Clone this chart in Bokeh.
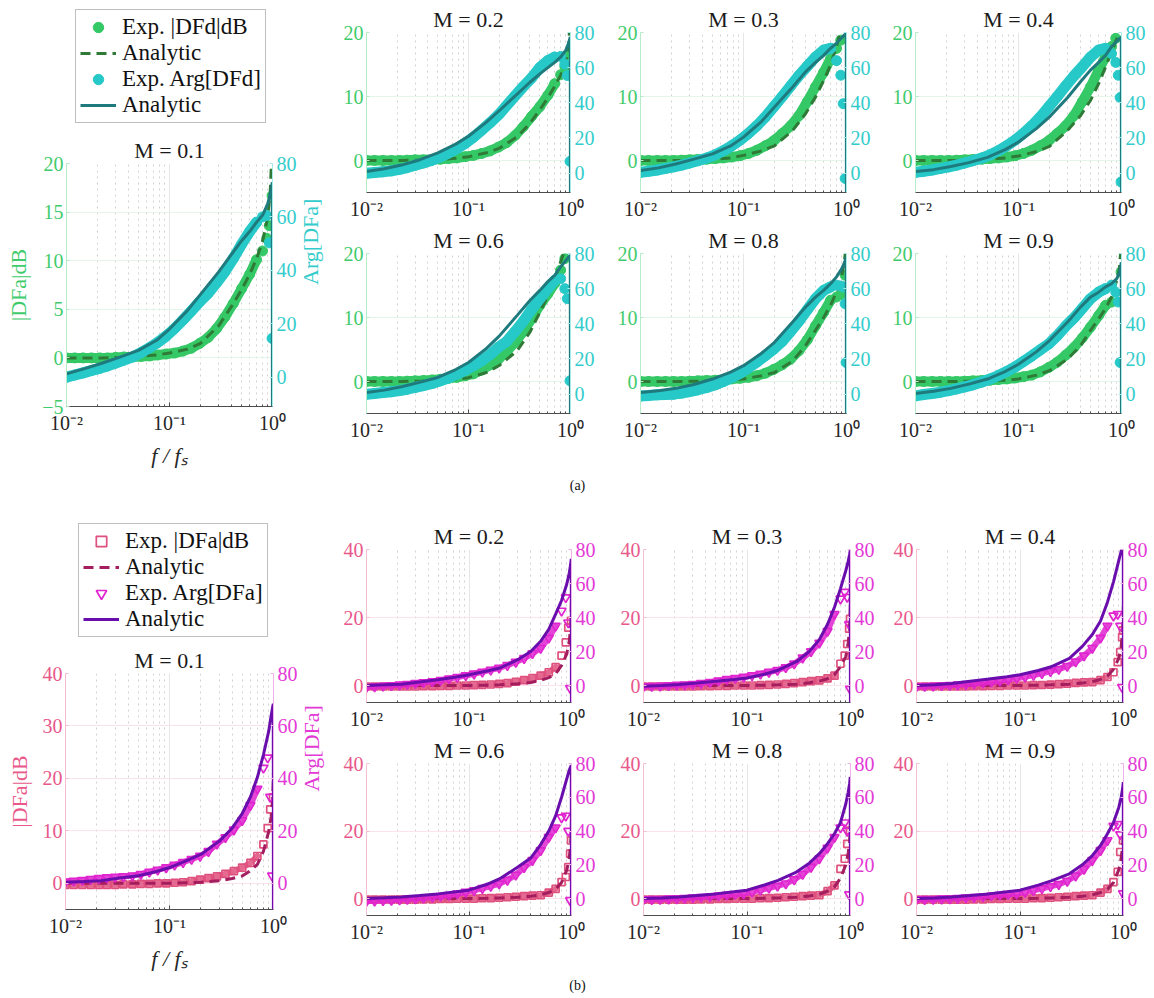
import math
import numpy as np
from bokeh.plotting import figure
from bokeh.layouts import row, column
from bokeh.models import (Range1d, LinearAxis, FixedTicker, CustomJSTickFormatter,
                          Legend, LegendItem, Label, Title)
from bokeh.embed import file_html
from bokeh.resources import INLINE

nan = float("nan")
SERIF = "Liberation Serif"

# ---------------- data ----------------
F_EXP = [0.010, 0.012, 0.0145, 0.0175, 0.021, 0.025, 0.030, 0.036, 0.044, 0.053, 0.064, 0.077,
         0.093, 0.112, 0.135, 0.163, 0.197, 0.237, 0.286, 0.345, 0.416, 0.50, 0.60, 0.70,
         0.80, 0.88, 0.93, 0.97, 0.99]
F_AN = [0.010, 0.015, 0.022, 0.033, 0.050, 0.075, 0.10, 0.15, 0.20, 0.30, 0.40, 0.50,
        0.60, 0.70, 0.80, 0.90, 0.95, 0.98, 0.995, 0.999]
BAND_END = 24   # experimental points up to f = 0.70 are dense enough to form a band

X_MAJOR = [0.01, 0.1, 1.0]
X_MINOR = [0.02, 0.03, 0.04, 0.05, 0.06, 0.07, 0.08, 0.09,
           0.2, 0.3, 0.4, 0.5, 0.6, 0.7, 0.8, 0.9]

# panel (a): |DFd| in dB (exp / analytic), Arg[DFd] in deg (exp / analytic)
A_MAG_EXP_01 = [0,0,0,0,0,0,0.05,0.1,0.1,0.15,0.2,0.3,0.4,0.5,0.7,1.0,1.5,2.1,3.0,4.2,5.6,7.1,8.6,10.1,11.0,12.3,13.6,nan,16.7]
A_MAG_EXP_02 = [0,0,0,0,0,0.05,0.1,0.1,0.15,0.2,0.3,0.4,0.6,0.8,1.1,1.5,2.1,2.8,3.9,5.3,6.9,8.4,10.2,12.0,13.4,14.7,16.5,nan,nan]
A_MAG_EXP_03 = [0,0,0,0,0,0.05,0.1,0.15,0.2,0.3,0.4,0.55,0.75,1.1,1.6,2.3,3.1,4.2,5.4,7.0,9.2,11.5,13.8,15.9,17.5,18.8,nan,nan,nan]
A_MAG_EXP_04 = [0,0,0,0,0,0.05,0.1,0.15,0.2,0.3,0.4,0.55,0.75,1.1,1.6,2.3,3.1,4.2,5.4,7.0,9.2,11.5,14.1,16.2,17.8,19.1,nan,nan,nan]
A_MAG_EXP_06 = [0,0,0,0,0,0.05,0.1,0.15,0.25,0.35,0.5,0.65,0.9,1.2,1.8,2.6,3.5,4.7,6.1,7.8,9.8,11.9,13.7,15.3,17.4,19.2,nan,nan,nan]
A_MAG_EXP_08 = [0,0,0,0,0,0,0.05,0.1,0.15,0.2,0.3,0.4,0.5,0.65,0.9,1.3,1.9,2.6,3.5,4.8,6.5,8.7,10.8,12.7,13.2,13.6,nan,16.6,nan]
A_MAG_EXP_09 = [0,0,0,0,0,0,0.05,0.1,0.15,0.2,0.3,0.4,0.55,0.75,1.0,1.5,2.2,3.0,4.1,5.3,6.8,8.5,10.3,11.9,12.4,nan,nan,nan,17.1]

A_ARG_EXP_01 = [0,0.8,1.6,2.5,3.3,4.2,5.3,6.4,7.6,9.2,11,13,15.4,18.2,21.4,24.8,28.3,31.4,35.3,39.5,44.4,49.7,54.5,58,60,60.5,50.3,nan,14.5]
A_ARG_EXP_02 = [0,0.4,0.8,1.3,2.2,3.2,4.5,5.8,7.4,9.2,11.5,14,17,20.5,24.5,28.7,33.2,38.5,44,49.3,54.2,60,64,66,66.4,62,55.5,nan,6.7]
A_ARG_EXP_03 = [0.5,1.1,1.8,2.7,3.6,4.6,5.8,7.1,8.6,10.4,12.8,15.6,18.9,22.7,27,32,37.8,43.5,49.5,55.5,60.8,66,70,71,64,55.7,39.5,-3,nan]
A_ARG_EXP_04 = [0.5,1.1,1.8,2.7,3.6,4.6,5.8,7.1,8.6,10.4,12.8,15.6,18.9,22.7,27,32,37.8,43.5,49.5,55.3,60.5,66,70,71,68,63,55.7,43,-5]
A_ARG_EXP_06 = [0,0.4,0.9,1.4,2,2.8,3.8,4.9,6.1,7.6,9.3,11.3,13.6,16.2,19,22.5,26.7,30,35.6,41.5,48.2,54.3,60,64.7,65.7,60,54.3,nan,7.6]
A_ARG_EXP_08 = [-1,-0.7,-0.4,-0.2,0,0.6,1.5,2.5,3.8,5.3,7.2,9.4,12,15,18.3,21.9,25.7,30,35.6,41.5,48,54.3,59,61,62,61.5,61,51.4,18]
A_ARG_EXP_09 = [-1,-0.2,0.4,1.1,2,3,4.1,5.3,6.9,8.6,10.6,12.9,15.5,18.6,21.8,25.2,28.6,33.2,38.6,43.3,48.8,54.3,58,60,62,58,52.4,18,nan]

A_MAG_AN_01 = [0,0,0,0.05,0.15,0.3,0.5,0.9,1.5,3.3,5.3,7.0,8.6,10.2,12.0,14.5,17.0,20.5,25,30]
A_MAG_AN_02 = [0,0,0,0.05,0.15,0.35,0.6,1.2,1.9,3.7,5.8,7.9,9.8,11.6,13.3,15.5,17.5,20.5,25,30]
A_MAG_AN_03 = [0,0,0,0.05,0.15,0.4,0.8,1.5,2.3,4.7,7.3,9.9,12.5,14.9,17.8,21,23,25,27,30]
A_MAG_AN_04 = [0,0,0,0.05,0.15,0.4,0.7,1.4,2.2,4.7,7.0,9.4,12.0,14.6,17.0,19.0,20.5,23,26,30]
A_MAG_AN_06 = [0,0,0,0.05,0.1,0.3,0.6,1.4,2.5,4.8,7.7,10.8,13.4,16.0,18.7,21,23,25,27,30]
A_MAG_AN_08 = [0,0,0,0.03,0.1,0.25,0.4,0.9,1.4,3.2,5.6,8.0,10.0,11.9,14.0,16.6,18.5,20.5,25,30]
A_MAG_AN_09 = [0,0,0,0.03,0.1,0.2,0.4,1.0,1.7,3.5,5.6,8.0,9.8,11.4,13.2,15.8,17.5,20,25,30]

A_ARG_AN_01 = [1.2,3.2,5.2,7.5,10,13.8,18,25,31,39.4,46,51,54.5,58,60.6,65,68.5,71,73,-30]
A_ARG_AN_02 = [1,2.5,4.6,7.5,11.5,16.5,21,29,35.5,45,51.7,56.5,60,63,66,70,73.5,76,77.5,-30]
A_ARG_AN_03 = [1.5,3,5.2,8,11,15.5,20.5,29.5,37.6,49,57.6,63,67,71,74,77,78.5,79,79.5,-30]
A_ARG_AN_04 = [1,2,3.8,6,9,13.5,17.7,25.5,32,43,52,58.6,63,67,72,75,76.5,77,77.5,-30]
A_ARG_AN_06 = [1,2.3,4.2,6.7,9.5,14,18,26,33,44.8,53.3,59,64,67.6,72.4,76,77.8,78.5,79,-30]
A_ARG_AN_08 = [1,1.9,3.3,5.5,8.6,12.5,16.2,23.3,29.5,41,49.5,55.2,59,62.8,66.7,71.4,74.5,76.5,78,-30]
A_ARG_AN_09 = [0.4,1.6,3.3,5.7,8.6,13,17,24.2,30.5,41,49.5,55.2,58,61,62.8,65.7,69,72,75,-30]

# panel (b): |DFa| in dB (exp / analytic), Arg[DFa] in deg (exp / analytic)
B_MAG_EXP_01 = [-0.3,-0.3,-0.3,-0.3,-0.3,-0.3,-0.3,-0.2,-0.2,-0.1,-0.1,0,0,0.1,0.2,0.4,0.7,1.0,1.3,1.8,2.3,3.0,3.9,5.2,7.4,10.5,14.1,nan,16.4]
B_MAG_EXP_02 = [-0.3,-0.3,-0.3,-0.3,-0.3,-0.3,-0.3,-0.2,-0.2,-0.1,-0.1,0,0,0.1,0.2,0.3,0.5,0.7,1.1,1.6,2.2,2.9,3.9,5.4,8.8,12.7,17,nan,19]
B_MAG_EXP_03 = [-0.3,-0.3,-0.3,-0.3,-0.3,-0.3,-0.3,-0.2,-0.2,-0.1,-0.1,0,0,0,0.1,0.2,0.3,0.5,0.7,1.0,1.3,1.5,2.1,2.9,6.4,8.8,12.2,16.7,19.6]
B_MAG_EXP_04 = [-0.3,-0.3,-0.3,-0.3,-0.3,-0.3,-0.3,-0.2,-0.2,-0.1,-0.1,0,0,0,0.1,0.15,0.25,0.4,0.55,0.75,0.9,1.0,1.6,2.5,3.9,6.9,9.8,14.2,16.2]
B_MAG_EXP_06 = [-0.3,-0.3,-0.3,-0.3,-0.3,-0.3,-0.3,-0.2,-0.2,-0.1,-0.1,0,0,0,0.1,0.15,0.25,0.4,0.55,0.75,0.9,1.0,1.8,2.9,4.9,6.4,9.3,13.3,17.2]
B_MAG_EXP_08 = [-0.3,-0.3,-0.3,-0.3,-0.3,-0.3,-0.3,-0.2,-0.2,-0.1,-0.1,0,0,0,0.1,0.15,0.25,0.4,0.55,0.75,0.9,1.0,2.2,3.9,8.8,11.8,16.2,nan,20.1]
B_MAG_EXP_09 = [-0.3,-0.3,-0.3,-0.3,-0.3,-0.3,-0.3,-0.2,-0.2,-0.1,-0.1,0,0,0,0.1,0.15,0.25,0.4,0.55,0.75,0.9,1.0,1.8,2.9,4.9,7.9,13.8,nan,17.2]

B_ARG_EXP_01 = [0.6,0.9,1.2,1.6,1.9,2.2,2.4,2.6,2.9,3.5,4.3,5.1,6,7,8,9.2,10.4,12.2,15,17.5,20.4,24,29.8,36,44,47.9,32.9,2.9,nan]
B_ARG_EXP_02 = [-1,-0.6,-0.2,0.1,0.4,0.8,1.3,1.8,2.4,3.1,4,4.9,5.9,6.9,8,9.2,10.3,11.9,13.8,16,18.9,22,28,35,43.9,51.8,37,-1.6,nan]
B_ARG_EXP_03 = [-0.5,-0.4,-0.2,0,0.3,0.5,0.8,1.3,2,2.8,3.7,4.3,5,5.9,6.8,7.9,9,10.6,12.8,16.3,20,25,32,42,51,55,52,36,-2]
B_ARG_EXP_04 = [-0.5,-0.4,-0.2,0,0.2,0.4,0.7,1.1,1.6,2.1,2.7,3.5,4.3,5.1,6.1,7.2,8.3,9.6,11.4,14,17.5,22,28,35,41,42,35,-1,nan]
B_ARG_EXP_06 = [-1.5,-1.3,-1.1,-0.9,-0.6,-0.3,0,0.4,0.9,1.4,2,2.9,3.9,4.9,6.1,7.4,8.8,11,14,18.5,22.7,28.5,36.4,42,48,49,40,-1,nan]
B_ARG_EXP_08 = [-0.5,-0.4,-0.3,-0.1,0,0.3,0.6,0.9,1.2,1.7,2.2,2.6,3,4,5.1,6.3,7.5,8.9,11.3,14.5,18.7,23.6,30,36.4,42,45,40,2.5,nan]
B_ARG_EXP_09 = [-0.5,-0.4,-0.3,-0.1,0,0.3,0.6,0.9,1.2,1.7,2.2,2.6,3,3.9,4.9,6,7.2,8.5,10.4,13.5,17.5,22.7,28.6,34.5,43,44,38,nan,3]

B_MAG_AN_01 = [0,0,0,0,0,0,0,0.1,0.2,0.5,0.9,1.4,2.4,3.6,6.1,9.9,12.7,16,19.5,21]
B_MAG_AN_02 = [0,0,0,0,0,0,0,0.1,0.2,0.5,0.9,1.5,2.3,3.4,5.9,9.3,13,17,23,26]
B_MAG_AN_03 = [0,0,0,0,0,0,0,0.1,0.2,0.4,0.8,1.3,2.0,3.2,5.5,8.5,12.5,17,23,26]
B_MAG_AN_04 = [0,0,0,0,0,0,0,0.1,0.2,0.4,0.7,1.1,1.8,2.8,4.8,8.0,11.5,16,22,25]
B_MAG_AN_06 = [0,0,0,0,0,0,0,0.1,0.2,0.4,0.7,1.1,1.8,2.8,4.8,8.5,12,16,20,23]
B_MAG_AN_08 = [0,0,0,0,0,0,0,0.1,0.2,0.4,0.8,1.3,2.2,3.5,6.0,10,13.5,17,21,24]
B_MAG_AN_09 = [0,0,0,0,0,0,0,0.1,0.2,0.4,0.7,1.1,1.8,2.8,4.8,8.5,12,15.5,19,22]

B_ARG_AN_01 = [0.4,0.7,1,2,2.9,4.5,6,8.8,11,16,21,26.6,32.9,40.4,49,58,64,67,68.5,-30]
B_ARG_AN_02 = [0,0.4,0.8,2,3.4,5,6.3,8.5,10.3,15.2,20,26,33,42,50,59.7,66,71,74.5,-30]
B_ARG_AN_03 = [-0.4,0,0.6,1.5,2.5,3.5,4.4,6.8,9,14,20,27,36,46,57,67.5,73,77,79.5,-30]
B_ARG_AN_04 = [0,0.5,1.2,2.5,3.8,5.2,6.3,8.8,11,16,23,30,38,49,61,73.5,79,85,90,-30]
B_ARG_AN_06 = [0,0.5,1,1.8,2.8,4,5,8.5,11.8,18.7,24,32,40,49,60,71,76,78,79,-30]
B_ARG_AN_08 = [0,0.4,1,1.8,2.8,4,5,8.2,10.8,15.7,21,26.6,32.5,38.4,45,56,63,68,72,-30]
B_ARG_AN_09 = [0,0.4,1,1.8,2.8,4,5,8,10.5,14.7,20,25.5,31.5,38.4,45,54,60,65,69,-30]

DATA = {
    "a": {
        "0.1": (A_MAG_EXP_01, A_MAG_AN_01, A_ARG_EXP_01, A_ARG_AN_01),
        "0.2": (A_MAG_EXP_02, A_MAG_AN_02, A_ARG_EXP_02, A_ARG_AN_02),
        "0.3": (A_MAG_EXP_03, A_MAG_AN_03, A_ARG_EXP_03, A_ARG_AN_03),
        "0.4": (A_MAG_EXP_04, A_MAG_AN_04, A_ARG_EXP_04, A_ARG_AN_04),
        "0.6": (A_MAG_EXP_06, A_MAG_AN_06, A_ARG_EXP_06, A_ARG_AN_06),
        "0.8": (A_MAG_EXP_08, A_MAG_AN_08, A_ARG_EXP_08, A_ARG_AN_08),
        "0.9": (A_MAG_EXP_09, A_MAG_AN_09, A_ARG_EXP_09, A_ARG_AN_09),
    },
    "b": {
        "0.1": (B_MAG_EXP_01, B_MAG_AN_01, B_ARG_EXP_01, B_ARG_AN_01),
        "0.2": (B_MAG_EXP_02, B_MAG_AN_02, B_ARG_EXP_02, B_ARG_AN_02),
        "0.3": (B_MAG_EXP_03, B_MAG_AN_03, B_ARG_EXP_03, B_ARG_AN_03),
        "0.4": (B_MAG_EXP_04, B_MAG_AN_04, B_ARG_EXP_04, B_ARG_AN_04),
        "0.6": (B_MAG_EXP_06, B_MAG_AN_06, B_ARG_EXP_06, B_ARG_AN_06),
        "0.8": (B_MAG_EXP_08, B_MAG_AN_08, B_ARG_EXP_08, B_ARG_AN_08),
        "0.9": (B_MAG_EXP_09, B_MAG_AN_09, B_ARG_EXP_09, B_ARG_AN_09),
    },
}

LEGEND_LABELS = {
    "a": ["Exp. |DFd|dB", "Analytic", "Exp. Arg[DFd]", "Analytic"],
    "b": ["Exp. |DFa|dB", "Analytic", "Exp. Arg[DFa]", "Analytic"],
}
Y_LABELS = {"a": ("|DFa|dB", "Arg[DFa]"), "b": ("|DFa|dB", "Arg[DFa]")}
X_LABEL = "f / f\u209b"

STYLE = {
    "a": dict(ytop=20, arg_lo=-11, lt_big=[-5, 0, 5, 10, 15, 20], lt_small=[0, 10, 20],
              c_mag_exp="#35C866", c_mag_an="#2E7A36", c_arg_exp="#27C9C8", c_arg_an="#1F7A7E",
              left_col="#3FCB6C", left_line="#B5EBC7", right_col="#33CCCC", right_line="#A6E9E9",
              ygrid="#E4F6EA"),
    "b": dict(ytop=40, arg_lo=-10, lt_big=[0, 10, 20, 30, 40], lt_small=[0, 20, 40],
              c_mag_exp="#E0507E", c_mag_an="#A31D5F", c_arg_exp="#E025D0", c_arg_an="#6A0DAD",
              left_col="#E8588A", left_line="#F4BDD0", right_col="#E33AD6", right_line="#F0B0EA",
              ygrid="#FBE3EC"),
}

XFMT_CODE = """
const e = Math.round(Math.log10(tick));
if (e === -2) { return "10\u207b\u00b2"; }
if (e === -1) { return "10\u207b\u00b9"; }
if (e === 0) { return "10\u2070"; }
return "";
"""

TICK_FS = "20px"


def make_title(text):
    return Title(text=text, align="center", text_font=SERIF, text_font_size="22px",
                 text_font_style="normal", text_color="#1a1a1a", standoff=2)


def draw_series(p, panel, s, mag_exp, mag_an, arg_exp, arg_an):
    fe = np.array(F_EXP, dtype=float)
    fa = np.array(F_AN, dtype=float)
    me = np.array(mag_exp, dtype=float)
    ae = np.array(arg_exp, dtype=float)
    if panel == "a":
        p.line(fe[:BAND_END], me[:BAND_END], line_color=s["c_mag_exp"], line_width=10,
               line_cap="round", line_join="round")
        r1 = p.scatter(fe, me, marker="circle", size=10,
                       fill_color=s["c_mag_exp"], line_color=s["c_mag_exp"])
        r2 = p.line(fa, np.array(mag_an, dtype=float), line_color=s["c_mag_an"], line_width=3,
                    line_dash="10 6")
        p.line(fe[:BAND_END], ae[:BAND_END], line_color=s["c_arg_exp"], line_width=11,
               line_cap="round", line_join="round", y_range_name="arg")
        r3 = p.scatter(fe, ae, marker="circle", size=10,
                       fill_color=s["c_arg_exp"], line_color=s["c_arg_exp"], y_range_name="arg")
        r4 = p.line(fa, np.array(arg_an, dtype=float), line_color=s["c_arg_an"], line_width=3,
                    y_range_name="arg")
    else:
        p.line(fe[:BAND_END], me[:BAND_END], line_color=s["c_mag_exp"], line_width=6,
               line_alpha=0.85, line_cap="round", line_join="round")
        r1 = p.scatter(fe, me, marker="square", size=7,
                       fill_color=None, line_color=s["c_mag_exp"], line_width=1.7)
        r2 = p.line(fa, np.array(mag_an, dtype=float), line_color=s["c_mag_an"], line_width=3,
                    line_dash="10 6")
        p.line(fe[:BAND_END], ae[:BAND_END], line_color=s["c_arg_exp"], line_width=6,
               line_alpha=0.85, line_cap="round", line_join="round", y_range_name="arg")
        r3 = p.scatter(fe, ae, marker="inverted_triangle", size=9, fill_color=None,
                       line_color=s["c_arg_exp"], line_width=1.7, y_range_name="arg")
        r4 = p.line(fa, np.array(arg_an, dtype=float), line_color=s["c_arg_an"], line_width=3,
                    y_range_name="arg")
    return r1, r2, r3, r4


def make_plot(panel, m, w, h, ml, mr, mt, mb, big=False):
    s = STYLE[panel]
    mag_exp, mag_an, arg_exp, arg_an = DATA[panel][m]
    p = figure(width=w, height=h, x_axis_type="log",
               x_range=Range1d(0.01, 1.0), y_range=Range1d(-5, s["ytop"]),
               output_backend="svg", toolbar_location=None, title_location=None,
               min_border_left=ml, min_border_right=mr, min_border_top=mt, min_border_bottom=mb)
    p.outline_line_color = None
    p.extra_y_ranges = {"arg": Range1d(s["arg_lo"], 80)}
    p.add_layout(make_title("M = " + m), "above")

    # x axis
    xt = FixedTicker(ticks=X_MAJOR, minor_ticks=X_MINOR)
    xa = p.xaxis[0]
    xa.ticker = xt
    p.xgrid.ticker = xt
    xa.formatter = CustomJSTickFormatter(code=XFMT_CODE)
    xa.axis_line_color = "#4d4d4d"
    xa.major_tick_line_color = "#4d4d4d"
    xa.minor_tick_line_color = "#4d4d4d"
    xa.major_tick_in = 4
    xa.major_tick_out = 0
    xa.minor_tick_in = 2
    xa.minor_tick_out = 0
    xa.major_label_text_font = SERIF
    xa.major_label_text_font_size = TICK_FS
    xa.major_label_text_color = "#262626"
    xa.major_label_standoff = 5
    p.xgrid.grid_line_color = "#E6E6E6"
    p.xgrid.minor_grid_line_color = "#D2D2D2"
    p.xgrid.minor_grid_line_dash = "dotted"

    # left axis
    lt = FixedTicker(ticks=s["lt_big"] if big else s["lt_small"])
    ya = p.yaxis[0]
    ya.ticker = lt
    p.ygrid.ticker = lt
    p.ygrid.grid_line_color = s["ygrid"]
    ya.axis_line_color = s["left_line"]
    ya.major_tick_line_color = s["left_line"]
    ya.major_tick_in = 3
    ya.major_tick_out = 0
    ya.minor_tick_line_color = None
    ya.major_label_text_font = SERIF
    ya.major_label_text_font_size = TICK_FS
    ya.major_label_text_color = s["left_col"]
    ya.major_label_standoff = 3

    # right axis
    ra = LinearAxis(y_range_name="arg", ticker=FixedTicker(ticks=[0, 20, 40, 60, 80]))
    ra.axis_line_color = s["right_line"]
    ra.major_tick_line_color = s["right_line"]
    ra.major_tick_in = 3
    ra.major_tick_out = 0
    ra.minor_tick_line_color = None
    ra.major_label_text_font = SERIF
    ra.major_label_text_font_size = TICK_FS
    ra.major_label_text_color = s["right_col"]
    ra.major_label_standoff = 4
    p.add_layout(ra, "right")

    draw_series(p, panel, s, mag_exp, mag_an, arg_exp, arg_an)

    if big:
        ya.axis_label = Y_LABELS[panel][0]
        ya.axis_label_text_font = SERIF
        ya.axis_label_text_font_size = "22px"
        ya.axis_label_text_font_style = "normal"
        ya.axis_label_text_color = s["left_col"]
        ya.axis_label_standoff = 8
        ra.axis_label = Y_LABELS[panel][1]
        ra.axis_label_text_font = SERIF
        ra.axis_label_text_font_size = "22px"
        ra.axis_label_text_font_style = "normal"
        ra.axis_label_text_color = s["right_col"]
        ra.axis_label_standoff = 11
        if hasattr(ra, "axis_label_orientation"):
            try:
                ra.axis_label_orientation = math.pi / 2
            except Exception:
                pass
        xa.axis_label = X_LABEL
        xa.axis_label_text_font = SERIF
        xa.axis_label_text_font_size = "22px"
        xa.axis_label_text_font_style = "italic"
        xa.axis_label_text_color = "#262626"
        xa.axis_label_standoff = 6
    return p


def make_legend(panel, w, h, loc):
    """Legend box in its own figure; the entries use the M = 0.1 series, whose
    points lie outside this figure's y-range so only the legend is visible."""
    s = STYLE[panel]
    mag_exp, mag_an, arg_exp, arg_an = DATA[panel]["0.1"]
    lf = figure(width=w, height=h, x_range=Range1d(0.01, 1.0), y_range=Range1d(500, 501),
                x_axis_type="log", x_axis_location=None, y_axis_location=None,
                toolbar_location=None, title_location=None, output_backend="svg", min_border=0)
    lf.extra_y_ranges = {"arg": Range1d(500, 501)}
    lf.outline_line_color = None
    lf.grid.visible = False
    r1, r2, r3, r4 = draw_series(lf, panel, s, mag_exp, mag_an, arg_exp, arg_an)
    labels = LEGEND_LABELS[panel]
    leg = Legend(items=[LegendItem(label=labels[0], renderers=[r1]),
                        LegendItem(label=labels[1], renderers=[r2]),
                        LegendItem(label=labels[2], renderers=[r3]),
                        LegendItem(label=labels[3], renderers=[r4])],
                 location=loc, orientation="vertical",
                 margin=0, padding=4, spacing=0,
                 label_height=26, glyph_height=26, glyph_width=36, label_standoff=6,
                 label_text_font=SERIF, label_text_font_size="23px",
                 label_text_color="#111111", border_line_color="#808080",
                 border_line_width=1, background_fill_color="white",
                 background_fill_alpha=1)
    lf.add_layout(leg)
    return lf


def caption(text, h, yc):
    c = figure(width=1154, height=h, x_range=Range1d(0, 1), y_range=Range1d(0, 1),
               x_axis_location=None, y_axis_location=None, toolbar_location=None,
               title_location=None, output_backend="svg", min_border=0)
    c.outline_line_color = None
    c.grid.visible = False
    c.add_layout(Label(x=577, y=h - yc, x_units="screen", y_units="screen", text=text,
                       text_align="center", text_baseline="middle", text_font=SERIF,
                       text_font_size="14px", text_color="#111111"))
    return c


BIG_W = 340      # big plot: frame x = 66 .. 272, room for the right axis label
BIG_MR = 68

# ---------------- panel (a) ----------------
# the legend frame is aligned with the big plot frame (x = 66 .. 272)
legA = make_legend("a", BIG_W, 130, (9, 7))
bigA = make_plot("a", "0.1", BIG_W, 340, 66, BIG_MR, 33, 58, big=True)
a2 = make_plot("a", "0.2", 266, 222, 24, 36, 32, 30)
a3 = make_plot("a", "0.3", 275, 222, 34, 35, 32, 30)
a4 = make_plot("a", "0.4", 272, 222, 34, 32, 32, 30)
a6 = make_plot("a", "0.6", 266, 223, 24, 36, 31, 32)
a8 = make_plot("a", "0.8", 275, 223, 34, 35, 31, 32)
a9 = make_plot("a", "0.9", 272, 223, 34, 32, 31, 32)
panelA = row(column(legA, bigA), column(row(a2, a3, a4), row(a6, a8, a9)))

# ---------------- panel (b) ----------------
legB = make_legend("b", BIG_W, 140, (13, 3))
bigB = make_plot("b", "0.1", BIG_W, 333, 65, BIG_MR - 1, 33, 58, big=True)
b2 = make_plot("b", "0.2", 266, 233, 24, 35, 49, 31)
b3 = make_plot("b", "0.3", 275, 233, 37, 31, 49, 31)
b4 = make_plot("b", "0.4", 272, 233, 35, 30, 49, 31)
b6 = make_plot("b", "0.6", 266, 240, 24, 35, 30, 58)
b8 = make_plot("b", "0.8", 275, 240, 37, 31, 30, 58)
b9 = make_plot("b", "0.9", 272, 240, 35, 30, 30, 58)
panelB = row(column(legB, bigB), column(row(b2, b3, b4), row(b6, b8, b9)))

page = column(panelA, caption("(a)", 30, 15), panelB, caption("(b)", 25, 12))

open("out.html", "w").write(file_html(page, INLINE))
